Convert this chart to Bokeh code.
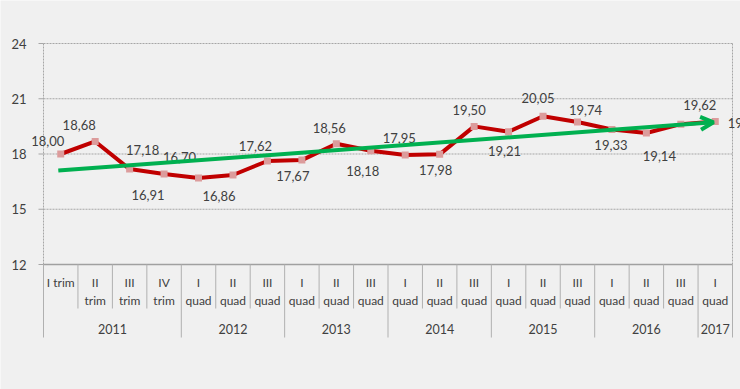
from bokeh.plotting import figure
from bokeh.models import Range1d, ColumnDataSource, Arrow, OpenHead
from bokeh.core.properties import value
from bokeh.embed import file_html
from bokeh.resources import INLINE

# ---- data ----
sub_labels = ["I trim", "II\ntrim", "III\ntrim", "IV\ntrim",
              "I\nquad", "II\nquad", "III\nquad",
              "I\nquad", "II\nquad", "III\nquad",
              "I\nquad", "II\nquad", "III\nquad",
              "I\nquad", "II\nquad", "III\nquad",
              "I\nquad", "II\nquad", "III\nquad",
              "I\nquad"]
years = ["2011", "2012", "2013", "2014", "2015", "2016", "2017"]
year_counts = [4, 3, 3, 3, 3, 3, 1]
values = [18.00, 18.68, 17.18, 16.91, 16.70, 16.86, 17.62, 17.67, 18.56, 18.18,
          17.95, 17.98, 19.50, 19.21, 20.05, 19.74, 19.33, 19.14, 19.62, 19.76]
trend_values = [17.10, 19.72]
y_ticks = [12, 15, 18, 21, 24]

# ---- layout / style ----
FONT = "Lato"
TXT = "#404040"
GRID = "#a6a6a6"
PX_X = 34.45          # px per category
PX_Y = 221.0 / 12.0   # px per unit
W, H = 740, 389
LEFT = 43             # px from canvas left to category 0
n = len(values)

# label offsets in screen px (dx right, dy down)
lab_dx = [-13, -16, 13, -16, -19, -14, -12, -9, -7, -8, -6, -4, -5, -4, -5, 8, -1, 13, 19, 29]
lab_dy = [-13, -16, -19, 21, -21, 21, -15, 16, -16, 20, -17, 16, -16, 19, -18, -12, 15, 23, -19, 1]

y_top = 24 + 43 / PX_Y
y_bot = 12 - (H - 264) / PX_Y
x_left = -LEFT / PX_X
x_right = (W - LEFT) / PX_X

p = figure(width=W, height=H, output_backend="svg", toolbar_location=None,
           x_range=Range1d(x_left, x_right), y_range=Range1d(y_bot, y_top),
           min_border_left=0, min_border_right=0, min_border_top=0, min_border_bottom=0)
p.background_fill_color = "#f0f0f0"
p.border_fill_color = "#f0f0f0"
p.outline_line_color = None
p.xaxis.visible = False
p.yaxis.visible = False
p.xgrid.visible = False
p.ygrid.visible = False

# y ticks and labels
p.segment(x0=[-5 / PX_X] * len(y_ticks), x1=[0] * len(y_ticks), y0=y_ticks, y1=y_ticks,
          line_color=GRID, line_width=1)
p.text(x=[-17 / PX_X] * len(y_ticks), y=y_ticks, text=[str(t) for t in y_ticks],
       text_font=value(FONT), text_font_size="13px", text_color=TXT,
       text_align="right", text_baseline="middle")

# horizontal gridlines (dotted) above 12
gl = [t for t in y_ticks if t > y_ticks[0]]
p.segment(x0=[0] * len(gl), x1=[n] * len(gl), y0=gl, y1=gl,
          line_color=GRID, line_width=1, line_dash="2 1")
# vertical dotted borders of plot area
p.segment(x0=[0, n], x1=[0, n], y0=[y_ticks[0]] * 2, y1=[y_ticks[-1]] * 2,
          line_color=GRID, line_width=1, line_dash="2 1")
# category axis baseline
p.segment(x0=[0], x1=[n], y0=[y_ticks[0]], y1=[y_ticks[0]], line_color="#a0a0a0", line_width=1.5)

# category dividers
short_end = 12 - 44 / PX_Y
long_end = 12 - 73 / PX_Y
bounds = [0]
for c in year_counts:
    bounds.append(bounds[-1] + c)
group_set = set(bounds)
xs_s = [i for i in range(1, n) if i not in group_set]
p.segment(x0=xs_s, x1=xs_s, y0=[12] * len(xs_s), y1=[short_end] * len(xs_s),
          line_color="#b0b0b0", line_width=1)
p.segment(x0=bounds, x1=bounds, y0=[12] * len(bounds), y1=[long_end] * len(bounds),
          line_color="#b0b0b0", line_width=1)

# sub labels
l1 = [s.split("\n")[0] for s in sub_labels]
l2 = [s.split("\n")[1] if "\n" in s else "" for s in sub_labels]
cx = [i + 0.5 for i in range(n)]
p.text(x=cx, y=[12 - 18 / PX_Y] * n, text=l1, text_font=value(FONT), text_font_size="12px",
       text_color=TXT, text_align="center", text_baseline="middle")
p.text(x=cx, y=[12 - 36 / PX_Y] * n, text=l2, text_font=value(FONT), text_font_size="12px",
       text_color=TXT, text_align="center", text_baseline="middle")
# year labels
ycx = [(bounds[k] + bounds[k + 1]) / 2 for k in range(len(years))]
p.text(x=ycx, y=[12 - 64 / PX_Y] * len(years), text=years, text_font=value(FONT),
       text_font_size="12.5px", text_color=TXT, text_align="center", text_baseline="middle")

# series
src = ColumnDataSource(dict(
    x=cx, y=values,
    lx=[cx[i] + lab_dx[i] / PX_X for i in range(n)],
    ly=[values[i] - lab_dy[i] / PX_Y for i in range(n)],
    lab=[f"{v:.2f}".replace(".", ",") for v in values]))
p.line("x", "y", source=src, line_color="#c00000", line_width=4, line_join="round")
p.scatter("x", "y", source=src, marker="square", size=7, fill_color="#dc9c9c", line_color=None)

# trend arrow
p.add_layout(Arrow(end=OpenHead(line_color="#00b050", line_width=4, size=13),
                   x_start=cx[0] - 0.07, y_start=trend_values[0],
                   x_end=cx[n - 2] + 0.95, y_end=trend_values[1],
                   line_color="#00b050", line_width=4))

p.text("lx", "ly", text="lab", source=src, text_font=value(FONT), text_font_size="13px",
       text_color=TXT, text_align="center", text_baseline="middle")

open("out.html", "w").write(file_html(p, INLINE))
